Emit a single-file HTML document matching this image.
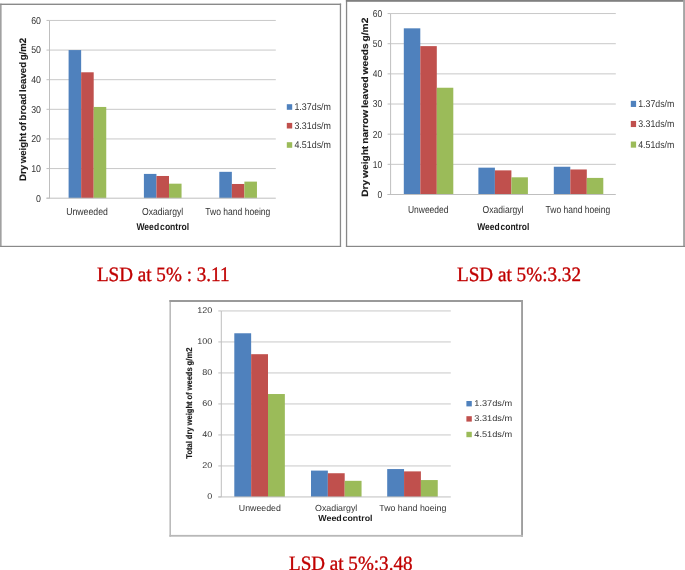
<!DOCTYPE html>
<html><head><meta charset="utf-8"><style>
html,body{margin:0;padding:0;background:#fff;width:685px;height:570px;overflow:hidden}
svg{display:block;will-change:transform;text-rendering:geometricPrecision;font-family:"Liberation Sans",sans-serif}
</style></head><body>
<svg width="685" height="570" viewBox="0 0 685 570">
<rect width="685" height="570" fill="#fff"/>
<rect x="0.2" y="3.6" width="1.30" height="243.40" fill="#8A8A8A"/>
<rect x="0.2" y="3.6" width="340.90" height="1.40" fill="#8A8A8A"/>
<rect x="339.8" y="3.6" width="1.30" height="243.40" fill="#8A8A8A"/>
<rect x="0.2" y="245.8" width="340.90" height="1.20" fill="#8A8A8A"/>
<line x1="49.50" y1="168.57" x2="275.80" y2="168.57" stroke="#C8C8C8" stroke-width="1"/>
<line x1="49.50" y1="138.95" x2="275.80" y2="138.95" stroke="#C8C8C8" stroke-width="1"/>
<line x1="49.50" y1="109.32" x2="275.80" y2="109.32" stroke="#C8C8C8" stroke-width="1"/>
<line x1="49.50" y1="79.70" x2="275.80" y2="79.70" stroke="#C8C8C8" stroke-width="1"/>
<line x1="49.50" y1="50.07" x2="275.80" y2="50.07" stroke="#C8C8C8" stroke-width="1"/>
<line x1="49.50" y1="20.45" x2="275.80" y2="20.45" stroke="#C8C8C8" stroke-width="1"/>
<rect x="68.60" y="50.07" width="12.55" height="148.12" fill="#4F81BD"/>
<rect x="81.15" y="72.29" width="12.55" height="125.91" fill="#C0504D"/>
<rect x="93.70" y="106.95" width="12.55" height="91.24" fill="#9BBB59"/>
<rect x="143.90" y="173.91" width="12.55" height="24.29" fill="#4F81BD"/>
<rect x="156.45" y="175.98" width="12.55" height="22.22" fill="#C0504D"/>
<rect x="169.00" y="183.68" width="12.55" height="14.52" fill="#9BBB59"/>
<rect x="219.30" y="171.83" width="12.55" height="26.37" fill="#4F81BD"/>
<rect x="231.85" y="183.98" width="12.55" height="14.22" fill="#C0504D"/>
<rect x="244.40" y="181.61" width="12.55" height="16.59" fill="#9BBB59"/>
<line x1="49.50" y1="20.45" x2="49.50" y2="198.20" stroke="#BFBFBF" stroke-width="1"/>
<line x1="46.50" y1="198.20" x2="275.80" y2="198.20" stroke="#BFBFBF" stroke-width="1"/>
<line x1="46.50" y1="198.20" x2="49.50" y2="198.20" stroke="#BFBFBF" stroke-width="1"/>
<line x1="46.50" y1="168.57" x2="49.50" y2="168.57" stroke="#BFBFBF" stroke-width="1"/>
<line x1="46.50" y1="138.95" x2="49.50" y2="138.95" stroke="#BFBFBF" stroke-width="1"/>
<line x1="46.50" y1="109.32" x2="49.50" y2="109.32" stroke="#BFBFBF" stroke-width="1"/>
<line x1="46.50" y1="79.70" x2="49.50" y2="79.70" stroke="#BFBFBF" stroke-width="1"/>
<line x1="46.50" y1="50.07" x2="49.50" y2="50.07" stroke="#BFBFBF" stroke-width="1"/>
<line x1="46.50" y1="20.45" x2="49.50" y2="20.45" stroke="#BFBFBF" stroke-width="1"/>
<text x="41.00" y="201.60" font-size="10.0" fill="#333333" text-anchor="end" textLength="4.90" lengthAdjust="spacingAndGlyphs">0</text>
<text x="41.00" y="171.97" font-size="10.0" fill="#333333" text-anchor="end" textLength="9.80" lengthAdjust="spacingAndGlyphs">10</text>
<text x="41.00" y="142.35" font-size="10.0" fill="#333333" text-anchor="end" textLength="9.80" lengthAdjust="spacingAndGlyphs">20</text>
<text x="41.00" y="112.72" font-size="10.0" fill="#333333" text-anchor="end" textLength="9.80" lengthAdjust="spacingAndGlyphs">30</text>
<text x="41.00" y="83.10" font-size="10.0" fill="#333333" text-anchor="end" textLength="9.80" lengthAdjust="spacingAndGlyphs">40</text>
<text x="41.00" y="53.47" font-size="10.0" fill="#333333" text-anchor="end" textLength="9.80" lengthAdjust="spacingAndGlyphs">50</text>
<text x="41.00" y="23.85" font-size="10.0" fill="#333333" text-anchor="end" textLength="9.80" lengthAdjust="spacingAndGlyphs">60</text>
<text x="87.00" y="215.00" font-size="10.2" fill="#333333" text-anchor="middle" textLength="41.70" lengthAdjust="spacingAndGlyphs">Unweeded</text>
<text x="162.60" y="215.00" font-size="10.2" fill="#333333" text-anchor="middle" textLength="41.20" lengthAdjust="spacingAndGlyphs">Oxadiargyl</text>
<text x="237.80" y="215.00" font-size="10.2" fill="#333333" text-anchor="middle" textLength="65.10" lengthAdjust="spacingAndGlyphs">Two hand hoeing</text>
<text x="162.80" y="230.40" font-size="9.8" fill="#1A1A1A" text-anchor="middle" font-weight="bold" textLength="52.80" lengthAdjust="spacingAndGlyphs" word-spacing="-1.6">Weed control</text>
<text x="25.60" y="181.00" font-size="9.4" fill="#1A1A1A" font-weight="bold" textLength="143.20" lengthAdjust="spacingAndGlyphs" transform="rotate(-90 25.60 181.00)" word-spacing="-1.0" stroke="#1A1A1A" stroke-width="0.15">Dry weight of broad leaved g/m2</text>
<rect x="286.80" y="104.20" width="5.40" height="5.60" fill="#4F81BD"/>
<text x="294.40" y="110.30" font-size="9.8" fill="#333333" textLength="36.60" lengthAdjust="spacingAndGlyphs">1.37ds/m</text>
<rect x="286.80" y="122.90" width="5.40" height="5.60" fill="#C0504D"/>
<text x="294.40" y="129.00" font-size="9.8" fill="#333333" textLength="36.60" lengthAdjust="spacingAndGlyphs">3.31ds/m</text>
<rect x="286.80" y="142.20" width="5.40" height="5.60" fill="#9BBB59"/>
<text x="294.40" y="148.30" font-size="9.8" fill="#333333" textLength="36.60" lengthAdjust="spacingAndGlyphs">4.51ds/m</text>
<rect x="345.9" y="0" width="1.30" height="247.00" fill="#888888"/>
<rect x="345.9" y="0" width="339.10" height="1.80" fill="#808080"/>
<rect x="683.1" y="0" width="1.90" height="247.00" fill="#A5A5A5"/>
<rect x="345.9" y="245.8" width="339.10" height="1.20" fill="#888888"/>
<line x1="390.60" y1="164.34" x2="615.80" y2="164.34" stroke="#C8C8C8" stroke-width="1"/>
<line x1="390.60" y1="134.18" x2="615.80" y2="134.18" stroke="#C8C8C8" stroke-width="1"/>
<line x1="390.60" y1="104.03" x2="615.80" y2="104.03" stroke="#C8C8C8" stroke-width="1"/>
<line x1="390.60" y1="73.87" x2="615.80" y2="73.87" stroke="#C8C8C8" stroke-width="1"/>
<line x1="390.60" y1="43.71" x2="615.80" y2="43.71" stroke="#C8C8C8" stroke-width="1"/>
<line x1="390.60" y1="13.55" x2="615.80" y2="13.55" stroke="#C8C8C8" stroke-width="1"/>
<rect x="403.80" y="28.33" width="16.50" height="166.17" fill="#4F81BD"/>
<rect x="420.30" y="46.12" width="16.50" height="148.38" fill="#C0504D"/>
<rect x="436.80" y="87.74" width="16.50" height="106.76" fill="#9BBB59"/>
<rect x="478.40" y="167.66" width="16.50" height="26.84" fill="#4F81BD"/>
<rect x="494.90" y="170.37" width="16.50" height="24.13" fill="#C0504D"/>
<rect x="511.40" y="177.31" width="16.50" height="17.19" fill="#9BBB59"/>
<rect x="553.80" y="166.75" width="16.50" height="27.75" fill="#4F81BD"/>
<rect x="570.30" y="169.47" width="16.50" height="25.03" fill="#C0504D"/>
<rect x="586.80" y="177.91" width="16.50" height="16.59" fill="#9BBB59"/>
<line x1="390.60" y1="13.55" x2="390.60" y2="194.50" stroke="#BFBFBF" stroke-width="1"/>
<line x1="387.60" y1="194.50" x2="615.80" y2="194.50" stroke="#BFBFBF" stroke-width="1"/>
<line x1="387.60" y1="194.50" x2="390.60" y2="194.50" stroke="#BFBFBF" stroke-width="1"/>
<line x1="387.60" y1="164.34" x2="390.60" y2="164.34" stroke="#BFBFBF" stroke-width="1"/>
<line x1="387.60" y1="134.18" x2="390.60" y2="134.18" stroke="#BFBFBF" stroke-width="1"/>
<line x1="387.60" y1="104.03" x2="390.60" y2="104.03" stroke="#BFBFBF" stroke-width="1"/>
<line x1="387.60" y1="73.87" x2="390.60" y2="73.87" stroke="#BFBFBF" stroke-width="1"/>
<line x1="387.60" y1="43.71" x2="390.60" y2="43.71" stroke="#BFBFBF" stroke-width="1"/>
<line x1="387.60" y1="13.55" x2="390.60" y2="13.55" stroke="#BFBFBF" stroke-width="1"/>
<text x="382.20" y="197.90" font-size="10.0" fill="#333333" text-anchor="end" textLength="4.70" lengthAdjust="spacingAndGlyphs">0</text>
<text x="382.20" y="167.74" font-size="10.0" fill="#333333" text-anchor="end" textLength="9.40" lengthAdjust="spacingAndGlyphs">10</text>
<text x="382.20" y="137.58" font-size="10.0" fill="#333333" text-anchor="end" textLength="9.40" lengthAdjust="spacingAndGlyphs">20</text>
<text x="382.20" y="107.43" font-size="10.0" fill="#333333" text-anchor="end" textLength="9.40" lengthAdjust="spacingAndGlyphs">30</text>
<text x="382.20" y="77.27" font-size="10.0" fill="#333333" text-anchor="end" textLength="9.40" lengthAdjust="spacingAndGlyphs">40</text>
<text x="382.20" y="47.11" font-size="10.0" fill="#333333" text-anchor="end" textLength="9.40" lengthAdjust="spacingAndGlyphs">50</text>
<text x="382.20" y="16.95" font-size="10.0" fill="#333333" text-anchor="end" textLength="9.40" lengthAdjust="spacingAndGlyphs">60</text>
<text x="428.20" y="212.60" font-size="10.2" fill="#333333" text-anchor="middle" textLength="40.50" lengthAdjust="spacingAndGlyphs">Unweeded</text>
<text x="503.00" y="212.60" font-size="10.2" fill="#333333" text-anchor="middle" textLength="40.90" lengthAdjust="spacingAndGlyphs">Oxadiargyl</text>
<text x="577.90" y="212.60" font-size="10.2" fill="#333333" text-anchor="middle" textLength="64.60" lengthAdjust="spacingAndGlyphs">Two hand hoeing</text>
<text x="503.20" y="229.50" font-size="9.8" fill="#1A1A1A" text-anchor="middle" font-weight="bold" textLength="52.10" lengthAdjust="spacingAndGlyphs" word-spacing="-1.6">Weed control</text>
<text x="368.00" y="196.80" font-size="9.2" fill="#1A1A1A" font-weight="bold" textLength="179.10" lengthAdjust="spacingAndGlyphs" transform="rotate(-90 368.00 196.80)" word-spacing="-0.8" stroke="#1A1A1A" stroke-width="0.15">Dry weight narrow leaved weeds g/m2</text>
<rect x="630.80" y="100.85" width="5.30" height="6.10" fill="#4F81BD"/>
<text x="638.20" y="107.20" font-size="9.8" fill="#333333" textLength="36.20" lengthAdjust="spacingAndGlyphs">1.37ds/m</text>
<rect x="630.80" y="120.95" width="5.30" height="6.10" fill="#C0504D"/>
<text x="638.20" y="127.30" font-size="9.8" fill="#333333" textLength="36.20" lengthAdjust="spacingAndGlyphs">3.31ds/m</text>
<rect x="630.80" y="141.55" width="5.30" height="6.10" fill="#9BBB59"/>
<text x="638.20" y="147.90" font-size="9.8" fill="#333333" textLength="36.20" lengthAdjust="spacingAndGlyphs">4.51ds/m</text>
<rect x="169.4" y="300" width="1.60" height="236.70" fill="#BBBBBB"/>
<rect x="169.4" y="300" width="353.60" height="2.00" fill="#9A9A9A"/>
<rect x="521.1" y="300" width="1.90" height="236.70" fill="#9E9E9E"/>
<rect x="169.4" y="534.9" width="353.60" height="1.80" fill="#B8B8B8"/>
<line x1="221.30" y1="465.95" x2="450.80" y2="465.95" stroke="#C8C8C8" stroke-width="1"/>
<line x1="221.30" y1="434.95" x2="450.80" y2="434.95" stroke="#C8C8C8" stroke-width="1"/>
<line x1="221.30" y1="403.95" x2="450.80" y2="403.95" stroke="#C8C8C8" stroke-width="1"/>
<line x1="221.30" y1="372.95" x2="450.80" y2="372.95" stroke="#C8C8C8" stroke-width="1"/>
<line x1="221.30" y1="341.95" x2="450.80" y2="341.95" stroke="#C8C8C8" stroke-width="1"/>
<line x1="221.30" y1="310.95" x2="450.80" y2="310.95" stroke="#C8C8C8" stroke-width="1"/>
<rect x="234.30" y="333.27" width="16.85" height="163.68" fill="#4F81BD"/>
<rect x="251.15" y="354.19" width="16.85" height="142.75" fill="#C0504D"/>
<rect x="268.00" y="394.03" width="16.85" height="102.92" fill="#9BBB59"/>
<rect x="311.00" y="470.60" width="16.85" height="26.35" fill="#4F81BD"/>
<rect x="327.85" y="473.24" width="16.85" height="23.71" fill="#C0504D"/>
<rect x="344.70" y="480.83" width="16.85" height="16.12" fill="#9BBB59"/>
<rect x="387.20" y="469.05" width="16.85" height="27.90" fill="#4F81BD"/>
<rect x="404.05" y="471.38" width="16.85" height="25.58" fill="#C0504D"/>
<rect x="420.90" y="480.06" width="16.85" height="16.89" fill="#9BBB59"/>
<line x1="221.30" y1="310.95" x2="221.30" y2="496.95" stroke="#BFBFBF" stroke-width="1"/>
<line x1="218.30" y1="496.95" x2="450.80" y2="496.95" stroke="#BFBFBF" stroke-width="1"/>
<line x1="218.30" y1="496.95" x2="221.30" y2="496.95" stroke="#BFBFBF" stroke-width="1"/>
<line x1="218.30" y1="465.95" x2="221.30" y2="465.95" stroke="#BFBFBF" stroke-width="1"/>
<line x1="218.30" y1="434.95" x2="221.30" y2="434.95" stroke="#BFBFBF" stroke-width="1"/>
<line x1="218.30" y1="403.95" x2="221.30" y2="403.95" stroke="#BFBFBF" stroke-width="1"/>
<line x1="218.30" y1="372.95" x2="221.30" y2="372.95" stroke="#BFBFBF" stroke-width="1"/>
<line x1="218.30" y1="341.95" x2="221.30" y2="341.95" stroke="#BFBFBF" stroke-width="1"/>
<line x1="218.30" y1="310.95" x2="221.30" y2="310.95" stroke="#BFBFBF" stroke-width="1"/>
<text x="212.30" y="499.15" font-size="8.4" fill="#333333" text-anchor="end" textLength="5.00" lengthAdjust="spacingAndGlyphs">0</text>
<text x="212.30" y="468.15" font-size="8.4" fill="#333333" text-anchor="end" textLength="10.00" lengthAdjust="spacingAndGlyphs">20</text>
<text x="212.30" y="437.15" font-size="8.4" fill="#333333" text-anchor="end" textLength="10.00" lengthAdjust="spacingAndGlyphs">40</text>
<text x="212.30" y="406.15" font-size="8.4" fill="#333333" text-anchor="end" textLength="10.00" lengthAdjust="spacingAndGlyphs">60</text>
<text x="212.30" y="375.15" font-size="8.4" fill="#333333" text-anchor="end" textLength="10.00" lengthAdjust="spacingAndGlyphs">80</text>
<text x="212.30" y="344.15" font-size="8.4" fill="#333333" text-anchor="end" textLength="15.00" lengthAdjust="spacingAndGlyphs">100</text>
<text x="212.30" y="313.15" font-size="8.4" fill="#333333" text-anchor="end" textLength="15.00" lengthAdjust="spacingAndGlyphs">120</text>
<text x="259.85" y="510.70" font-size="8.9" fill="#333333" text-anchor="middle" textLength="42.10" lengthAdjust="spacingAndGlyphs">Unweeded</text>
<text x="336.15" y="510.70" font-size="8.9" fill="#333333" text-anchor="middle" textLength="42.30" lengthAdjust="spacingAndGlyphs">Oxadiargyl</text>
<text x="412.80" y="510.70" font-size="8.9" fill="#333333" text-anchor="middle" textLength="67.00" lengthAdjust="spacingAndGlyphs">Two hand hoeing</text>
<text x="345.40" y="521.40" font-size="8.6" fill="#1A1A1A" text-anchor="middle" font-weight="bold" textLength="54.20" lengthAdjust="spacingAndGlyphs" word-spacing="-1.6">Weed control</text>
<text x="191.70" y="458.70" font-size="8.4" fill="#1A1A1A" font-weight="bold" textLength="111.10" lengthAdjust="spacingAndGlyphs" transform="rotate(-90 191.70 458.70)" word-spacing="-0.3" stroke="#1A1A1A" stroke-width="0.15">Total dry weight of weeds g/m2</text>
<rect x="466.40" y="401.00" width="5.40" height="5.40" fill="#4F81BD"/>
<text x="474.30" y="406.20" font-size="8.4" fill="#333333" textLength="37.90" lengthAdjust="spacingAndGlyphs">1.37ds/m</text>
<rect x="466.40" y="416.20" width="5.40" height="5.40" fill="#C0504D"/>
<text x="474.30" y="421.40" font-size="8.4" fill="#333333" textLength="37.90" lengthAdjust="spacingAndGlyphs">3.31ds/m</text>
<rect x="466.40" y="431.80" width="5.40" height="5.40" fill="#9BBB59"/>
<text x="474.30" y="437.00" font-size="8.4" fill="#333333" textLength="37.90" lengthAdjust="spacingAndGlyphs">4.51ds/m</text>
<text x="96.90" y="280.80" font-size="20.4" fill="#C00000" font-family="Liberation Serif" textLength="132.60" lengthAdjust="spacingAndGlyphs" stroke="#C00000" stroke-width="0.35">LSD at 5% : 3.11</text>
<text x="457.00" y="280.80" font-size="20.4" fill="#C00000" font-family="Liberation Serif" textLength="124.00" lengthAdjust="spacingAndGlyphs" stroke="#C00000" stroke-width="0.35">LSD at 5%:3.32</text>
<text x="289.00" y="569.60" font-size="20.4" fill="#C00000" font-family="Liberation Serif" textLength="123.50" lengthAdjust="spacingAndGlyphs" stroke="#C00000" stroke-width="0.35">LSD at 5%:3.48</text>
</svg>
</body></html>
